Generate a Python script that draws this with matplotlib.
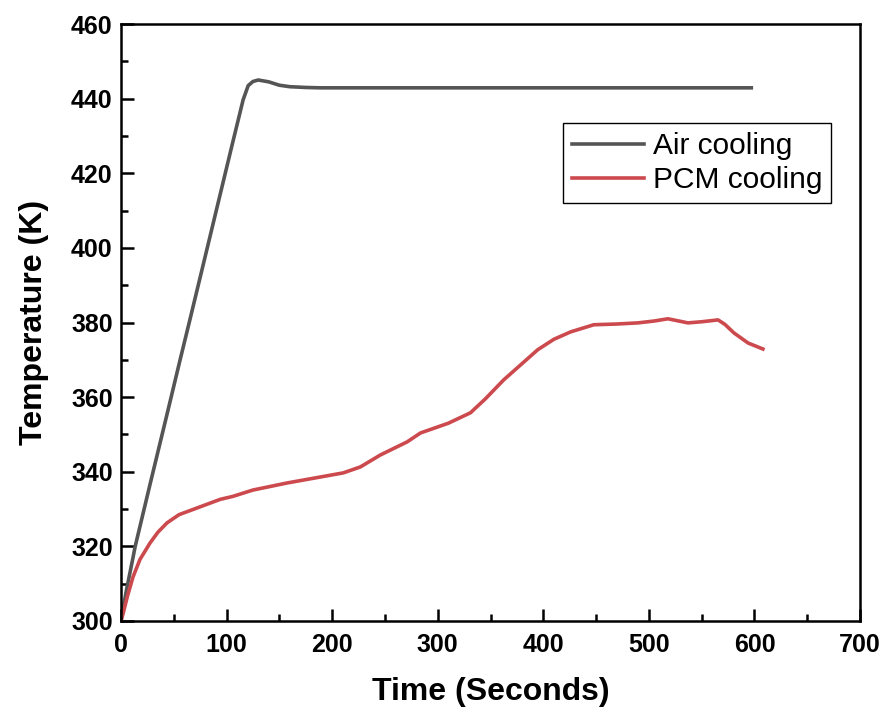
import numpy as np
import matplotlib
matplotlib.use('Agg')
import matplotlib.pyplot as plt
from matplotlib.ticker import MultipleLocator

plt.rcParams['font.family'] = ['Liberation Sans', 'DejaVu Sans']

# air cooling (time in s, temperature in K)
air_t = [0, 5, 11.4, 13.3, 27.5, 43.6, 56, 65.5, 77.8, 94, 105, 115.7, 120.5, 125, 130,
         140, 150, 160, 175, 189, 250, 350, 450, 550, 597]
air_T = [300, 308, 317, 319.8, 336.6, 355.4, 370, 381, 395.4, 414.4, 427.3, 439.7, 443.5, 444.6, 445,
         444.5, 443.6, 443.2, 443.0, 442.9, 442.9, 442.9, 442.9, 442.9, 442.9]

# PCM cooling
pcm_t = [0, 2, 6, 11.4, 18, 27.5, 35, 43.6, 55, 75, 94, 106, 125, 157.5, 189, 210.6, 226.8, 245.7, 271,
         283.7, 310, 331, 345, 362.4, 394.7, 410, 426, 447.8, 470, 489.6, 505, 518, 537, 550, 565.5,
         572, 580.6, 594, 608]
pcm_T = [300, 302, 306.5, 311.8, 316.5, 320.9, 323.8, 326.3, 328.5, 330.6, 332.6, 333.4, 335.1, 337, 338.6,
         339.7, 341.3, 344.5, 348, 350.4, 353, 355.8, 359.5, 364.6, 372.7, 375.5, 377.5, 379.4, 379.6, 379.9,
         380.4, 381, 379.9, 380.2, 380.7, 379.5, 377.2, 374.5, 372.9]

fig = plt.figure(figsize=(8.85, 7.11), dpi=100)
ax = fig.add_axes([0.1367, 0.1266, 0.8351, 0.8396])

ax.plot(air_t, air_T, color='#555555', lw=2.6, label='Air cooling')
ax.plot(pcm_t, pcm_T, color='#cc4a4e', lw=2.6, label='PCM cooling')

ax.set_xlim(0, 700)
ax.set_ylim(300, 460)
ax.xaxis.set_major_locator(MultipleLocator(100))
ax.xaxis.set_minor_locator(MultipleLocator(50))
ax.yaxis.set_major_locator(MultipleLocator(20))
ax.yaxis.set_minor_locator(MultipleLocator(10))
ax.tick_params(which='both', direction='in', width=1.8, labelsize=18)
ax.tick_params(which='major', length=9)
ax.tick_params(which='minor', length=5)
ax.tick_params(axis='y', pad=6)
ax.tick_params(axis='x', pad=9)
for lab in ax.get_xticklabels() + ax.get_yticklabels():
    lab.set_fontweight('bold')
for s in ax.spines.values():
    s.set_linewidth(1.8)

ax.set_xlabel('Time (Seconds)', fontsize=23, fontweight='bold', labelpad=14)
ax.set_ylabel('Temperature (K)', fontsize=23, fontweight='bold', labelpad=16)

leg = ax.legend(loc='upper left', bbox_to_anchor=(0.598, 0.834), borderaxespad=0,
                fontsize=21.5, fancybox=False, edgecolor='black', handlelength=2.4,
                handletextpad=0.3, labelspacing=0.2, borderpad=0.3, framealpha=1)
leg.get_frame().set_linewidth(1.0)

fig.savefig('out.png', dpi=100)
